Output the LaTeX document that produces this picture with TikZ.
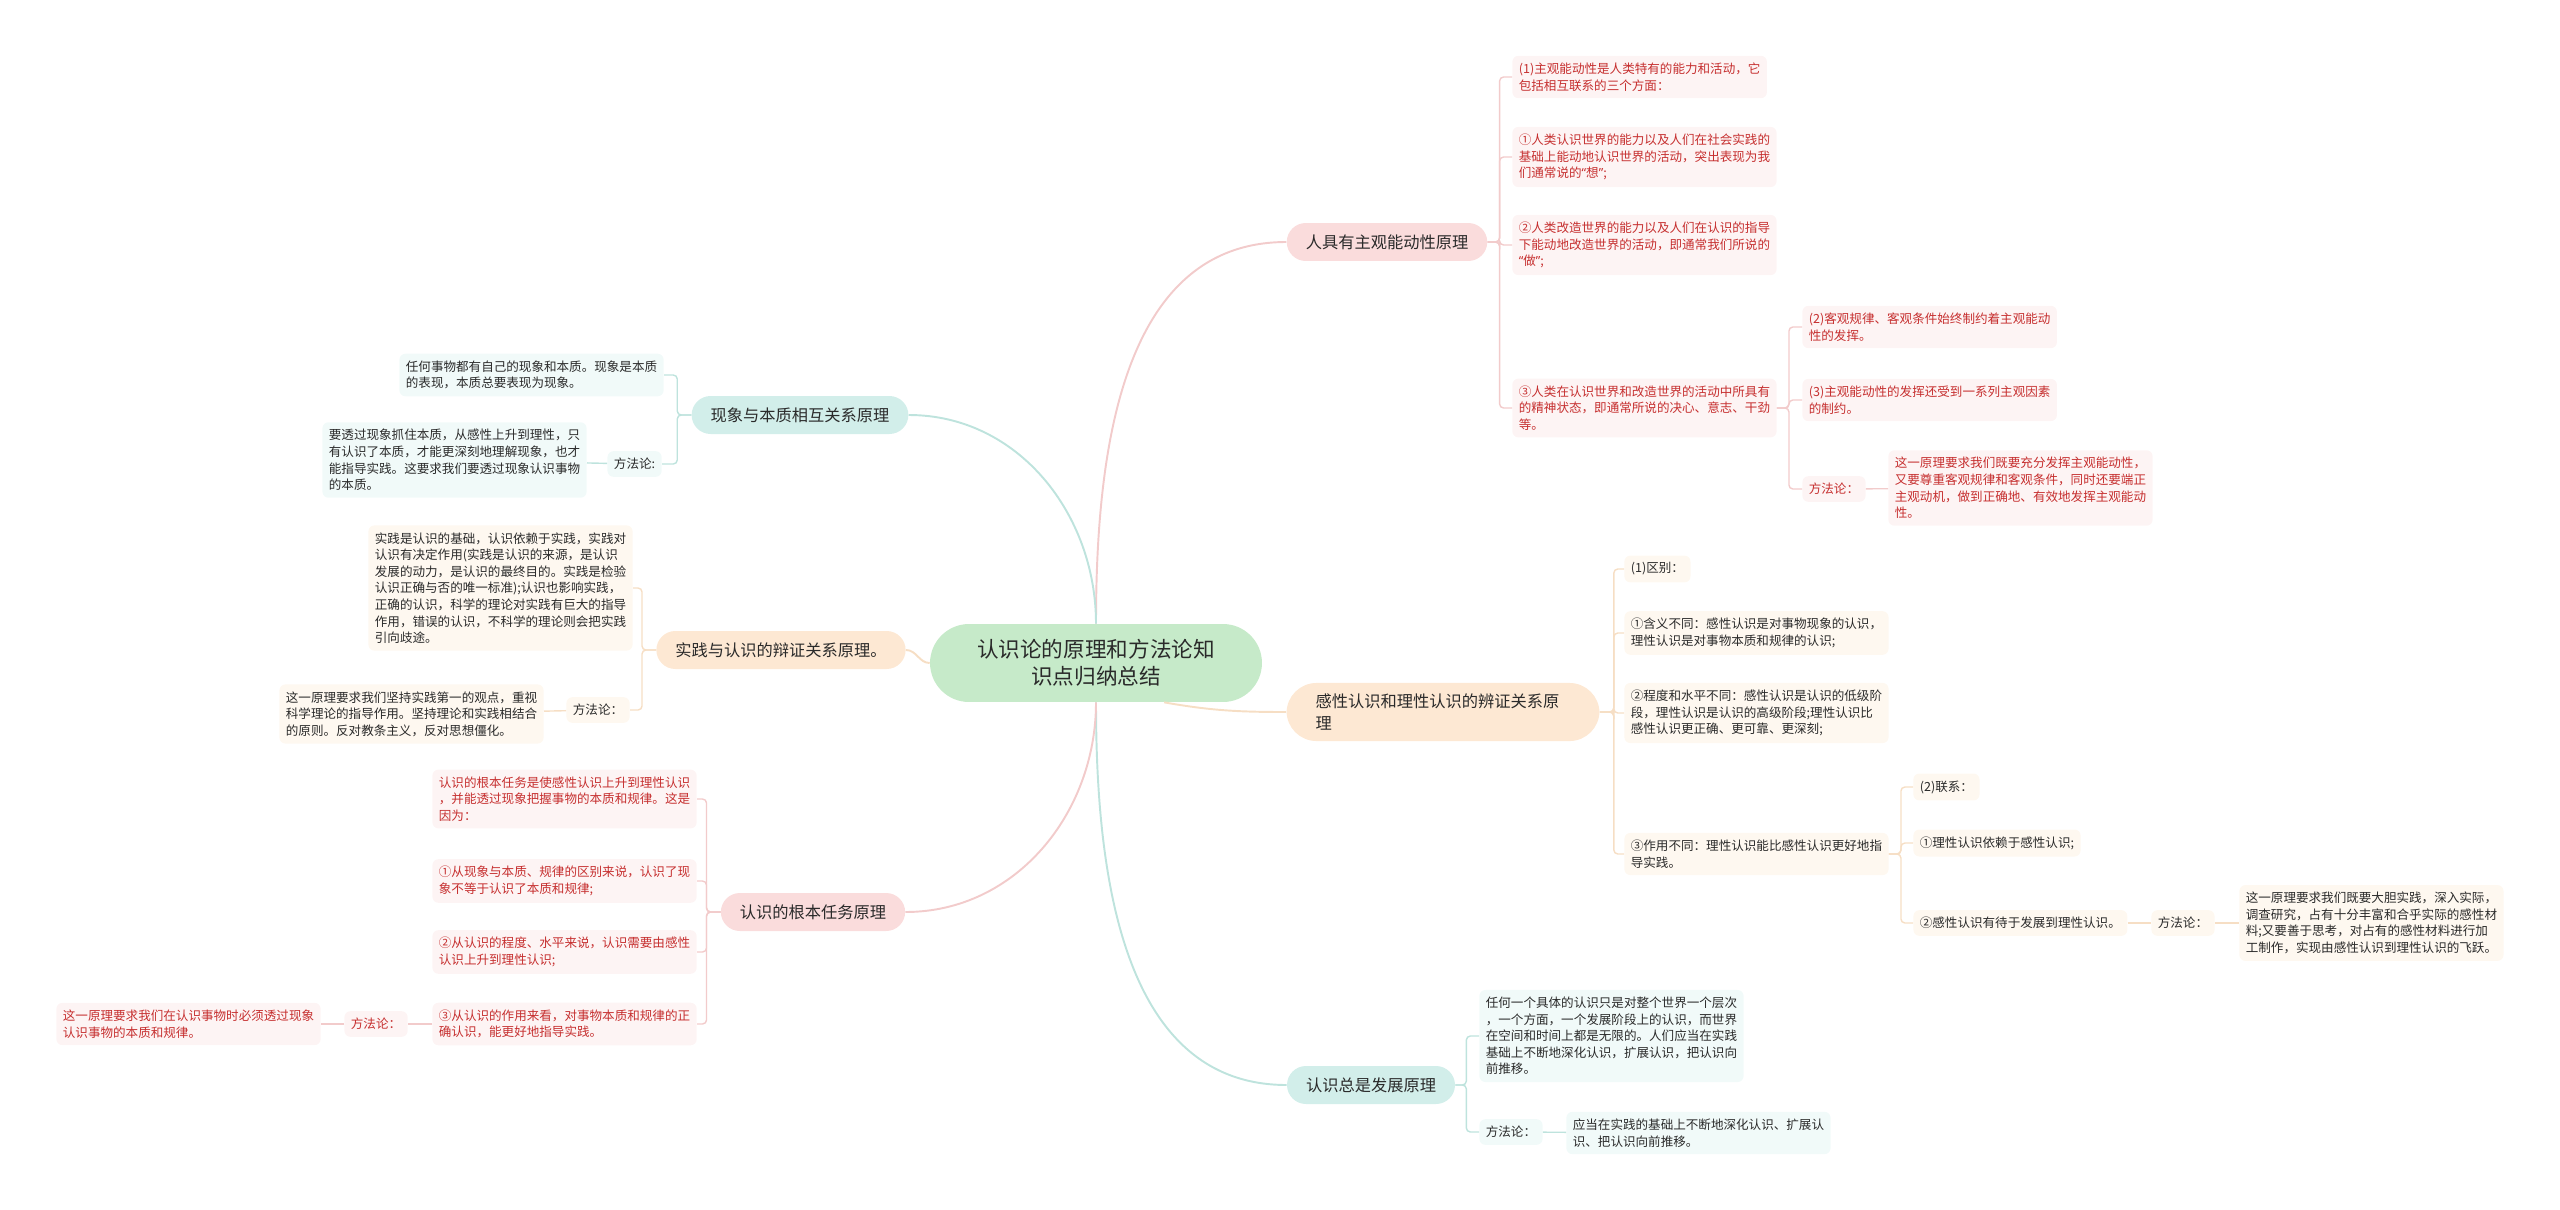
\documentclass[tikz,border=0pt]{standalone}
\usepackage{fontspec}
\setmainfont{Noto Sans CJK SC}
\newfontfamily\quotefont{Noto Sans}

\definecolor{rootfill}{HTML}{C6EAC9}
\definecolor{darktext}{HTML}{2A2A2A}
\definecolor{pinkmain}{HTML}{FADCDC}
\definecolor{pinkbg}{HTML}{FDF4F4}
\definecolor{pinkline}{HTML}{F2CBCB}
\definecolor{pinktext}{HTML}{C62F2F}
\definecolor{peachmain}{HTML}{FDE8D3}
\definecolor{peachbg}{HTML}{FEF8F0}
\definecolor{peachline}{HTML}{F6DEC4}
\definecolor{tealmain}{HTML}{D2EEEA}
\definecolor{tealbg}{HTML}{F1FAF9}
\definecolor{tealline}{HTML}{BEE3DD}

\newcommand{\leaffont}{\fontsize{7.15pt}{9.45pt}\selectfont}
\newcommand{\topicfont}{\fontsize{9.25pt}{12.3pt}\selectfont}
\newcommand{\rootfont}{\fontsize{12.3pt}{15.4pt}\selectfont}
\newcommand{\openq}{{\quotefont “}}
\newcommand{\closeq}{{\quotefont ”}}

\begin{document}
\begin{tikzpicture}[
    x=0.02cm, y=-0.02cm,
    root/.style={fill=rootfill, text=darktext, rounded corners=0.78cm, minimum width=6.64cm, minimum height=1.56cm, align=center, font=\rootfont},
    topic/.style={rounded corners=0.38cm, minimum height=0.76cm, inner xsep=0.38cm, inner ysep=0.22cm, text=darktext, font=\topicfont},
    leaf/.style={rounded corners=0.12cm, inner xsep=0.13cm, inner ysep=0.14cm, align=left, font=\leaffont},
    pinktopic/.style={topic, fill=pinkmain},
    peachtopic/.style={topic, fill=peachmain},
    tealtopic/.style={topic, fill=tealmain},
    pinkleaf/.style={leaf, fill=pinkbg, text=pinktext},
    peachleaf/.style={leaf, fill=peachbg, text=darktext},
    tealleaf/.style={leaf, fill=tealbg, text=darktext},
    link/.style={line width=0.8pt, rounded corners=0.08cm},
    trunk/.style={line width=1.1pt}
]
\useasboundingbox (0,0) rectangle (2560,1210);

% Root
\node[root] (root) at (1096,663) {认识论的原理和方法论知\\识点归纳总结};

% Right side topics
\node[pinktopic] (p1) at (1387,242) {人具有主观能动性原理};
\node[peachtopic, rounded corners=0.6cm, align=left, text width=5.1cm, inner xsep=0.58cm] (p2) at (1443,712) {感性认识和理性认识的辨证关系原\\理};
\node[tealtopic] (p3) at (1371,1085) {认识总是发展原理};

% Left side topics
\node[tealtopic] (q1) at (800,415) {现象与本质相互关系原理};
\node[peachtopic] (q2) at (781,650) {实践与认识的辩证关系原理。};
\node[pinktopic] (q3) at (813,912) {认识的根本任务原理};

% Subjective initiative
\node[pinkleaf, anchor=west] (a1) at (1512,77) {(1)主观能动性是人类特有的能力和活动，它\\包括相互联系的三个方面：};
\node[pinkleaf, anchor=west] (a2) at (1512,157) {①人类认识世界的能力以及人们在社会实践的\\基础上能动地认识世界的活动，突出表现为我\\们通常说的\openq 想\closeq;};
\node[pinkleaf, anchor=west] (a3) at (1512,245) {②人类改造世界的能力以及人们在认识的指导\\下能动地改造世界的活动，即通常我们所说的\\\openq 做\closeq;};
\node[pinkleaf, anchor=west] (a4) at (1512,408) {③人类在认识世界和改造世界的活动中所具有\\的精神状态，即通常所说的决心、意志、干劲\\等。};
\node[pinkleaf, anchor=west] (b1) at (1802,327) {(2)客观规律、客观条件始终制约着主观能动\\性的发挥。};
\node[pinkleaf, anchor=west] (b2) at (1802,400) {(3)主观能动性的发挥还受到一系列主观因素\\的制约。};
\node[pinkleaf, anchor=west] (b3) at (1802,489) {方法论：};
\node[pinkleaf, anchor=west] (b4) at (1888,488) {这一原理要求我们既要充分发挥主观能动性，\\又要尊重客观规律和客观条件，同时还要端正\\主观动机，做到正确地、有效地发挥主观能动\\性。};

% Perceptual and rational knowledge
\node[peachleaf, anchor=west] (c1) at (1624,569) {(1)区别：};
\node[peachleaf, anchor=west] (c2) at (1624,633) {①含义不同：感性认识是对事物现象的认识，\\理性认识是对事物本质和规律的认识;};
\node[peachleaf, anchor=west] (c3) at (1624,713) {②程度和水平不同：感性认识是认识的低级阶\\段，理性认识是认识的高级阶段;理性认识比\\感性认识更正确、更可靠、更深刻;};
\node[peachleaf, anchor=west] (c4) at (1624,854) {③作用不同：理性认识能比感性认识更好地指\\导实践。};
\node[peachleaf, anchor=west] (d1) at (1913,787) {(2)联系：};
\node[peachleaf, anchor=west] (d2) at (1913,843) {①理性认识依赖于感性认识;};
\node[peachleaf, anchor=west] (d3) at (1913,923) {②感性认识有待于发展到理性认识。};
\node[peachleaf, anchor=west] (d4) at (2151,923) {方法论：};
\node[peachleaf, anchor=west] (d5) at (2239,923) {这一原理要求我们既要大胆实践，深入实际，\\调查研究，占有十分丰富和合乎实际的感性材\\料;又要善于思考，对占有的感性材料进行加\\工制作，实现由感性认识到理性认识的飞跃。};

% Knowledge always develops
\node[tealleaf, anchor=west] (e1) at (1479,1036) {任何一个具体的认识只是对整个世界一个层次\\，一个方面，一个发展阶段上的认识，而世界\\在空间和时间上都是无限的。人们应当在实践\\基础上不断地深化认识，扩展认识，把认识向\\前推移。};
\node[tealleaf, anchor=west] (e2) at (1479,1132) {方法论：};
\node[tealleaf, anchor=west] (e3) at (1566,1133) {应当在实践的基础上不断地深化认识、扩展认\\识、把认识向前推移。};

% Phenomenon and essence
\node[tealleaf, anchor=east] (f1) at (664,375) {任何事物都有自己的现象和本质。现象是本质\\的表现，本质总要表现为现象。};
\node[tealleaf, anchor=east] (f2) at (662,464) {方法论:};
\node[tealleaf, anchor=east] (f3) at (587,460) {要透过现象抓住本质，从感性上升到理性，只\\有认识了本质，才能更深刻地理解现象，也才\\能指导实践。这要求我们要透过现象认识事物\\的本质。};

% Practice and knowledge
\node[peachleaf, anchor=east] (g1) at (633,588) {实践是认识的基础，认识依赖于实践，实践对\\认识有决定作用(实践是认识的来源，是认识\\发展的动力，是认识的最终目的。实践是检验\\认识正确与否的唯一标准);认识也影响实践，\\正确的认识，科学的理论对实践有巨大的指导\\作用，错误的认识，不科学的理论则会把实践\\引向歧途。};
\node[peachleaf, anchor=east] (g2) at (630,710) {方法论：};
\node[peachleaf, anchor=east] (g3) at (544,714) {这一原理要求我们坚持实践第一的观点，重视\\科学理论的指导作用。坚持理论和实践相结合\\的原则。反对教条主义，反对思想僵化。};

% Fundamental task of knowledge
\node[pinkleaf, anchor=east] (h1) at (697,799) {认识的根本任务是使感性认识上升到理性认识\\，并能透过现象把握事物的本质和规律。这是\\因为：};
\node[pinkleaf, anchor=east] (h2) at (697,881) {①从现象与本质、规律的区别来说，认识了现\\象不等于认识了本质和规律;};
\node[pinkleaf, anchor=east] (h3) at (697,952) {②从认识的程度、水平来说，认识需要由感性\\认识上升到理性认识;};
\node[pinkleaf, anchor=east] (h4) at (697,1024) {③从认识的作用来看，对事物本质和规律的正\\确认识，能更好地指导实践。};
\node[pinkleaf, anchor=east] (h5) at (408,1024) {方法论：};
\node[pinkleaf, anchor=east] (h6) at (321,1024) {这一原理要求我们在认识事物时必须透过现象\\认识事物的本质和规律。};

% Root to topics
\draw[trunk, pinkline] (root.north) to[out=90, in=180] (p1.west);
\draw[trunk, peachline] (root.-30) to[out=-10, in=180] (p2.west);
\draw[trunk, tealline] (root.south) to[out=-90, in=180] (p3.west);
\draw[trunk, tealline] (root.north) to[out=90, in=0] (q1.east);
\draw[trunk, peachline] (root.west) to[out=180, in=0] (q2.east);
\draw[trunk, pinkline] (root.south) to[out=-90, in=0] (q3.east);

% Topics to leaves
\foreach \c in {a1,a2,a3,a4} \draw[link, pinkline] (p1.east) -- ++(12,0) |- (\c.west);
\foreach \c in {b1,b2,b3} \draw[link, pinkline] (a4.east) -- ++(12,0) |- (\c.west);
\draw[link, pinkline] (b3) -- (b4);
\foreach \c in {c1,c2,c3,c4} \draw[link, peachline] (p2.east) -- ++(14,0) |- (\c.west);
\foreach \c in {d1,d2,d3} \draw[link, peachline] (c4.east) -- ++(12,0) |- (\c.west);
\draw[link, peachline] (d3) -- (d4);
\draw[link, peachline] (d4) -- (d5);
\foreach \c in {e1,e2} \draw[link, tealline] (p3.east) -- ++(11,0) |- (\c.west);
\draw[link, tealline] (e2) -- (e3);
\foreach \c in {f1,f2} \draw[link, tealline] (q1.west) -- ++(-14,0) |- (\c.east);
\draw[link, tealline] (f2) -- (f3);
\foreach \c in {g1,g2} \draw[link, peachline] (q2.west) -- ++(-14,0) |- (\c.east);
\draw[link, peachline] (g2) -- (g3);
\foreach \c in {h1,h2,h3,h4} \draw[link, pinkline] (q3.west) -- ++(-14,0) |- (\c.east);
\draw[link, pinkline] (h4) -- (h5);
\draw[link, pinkline] (h5) -- (h6);

\end{tikzpicture}
\end{document}
